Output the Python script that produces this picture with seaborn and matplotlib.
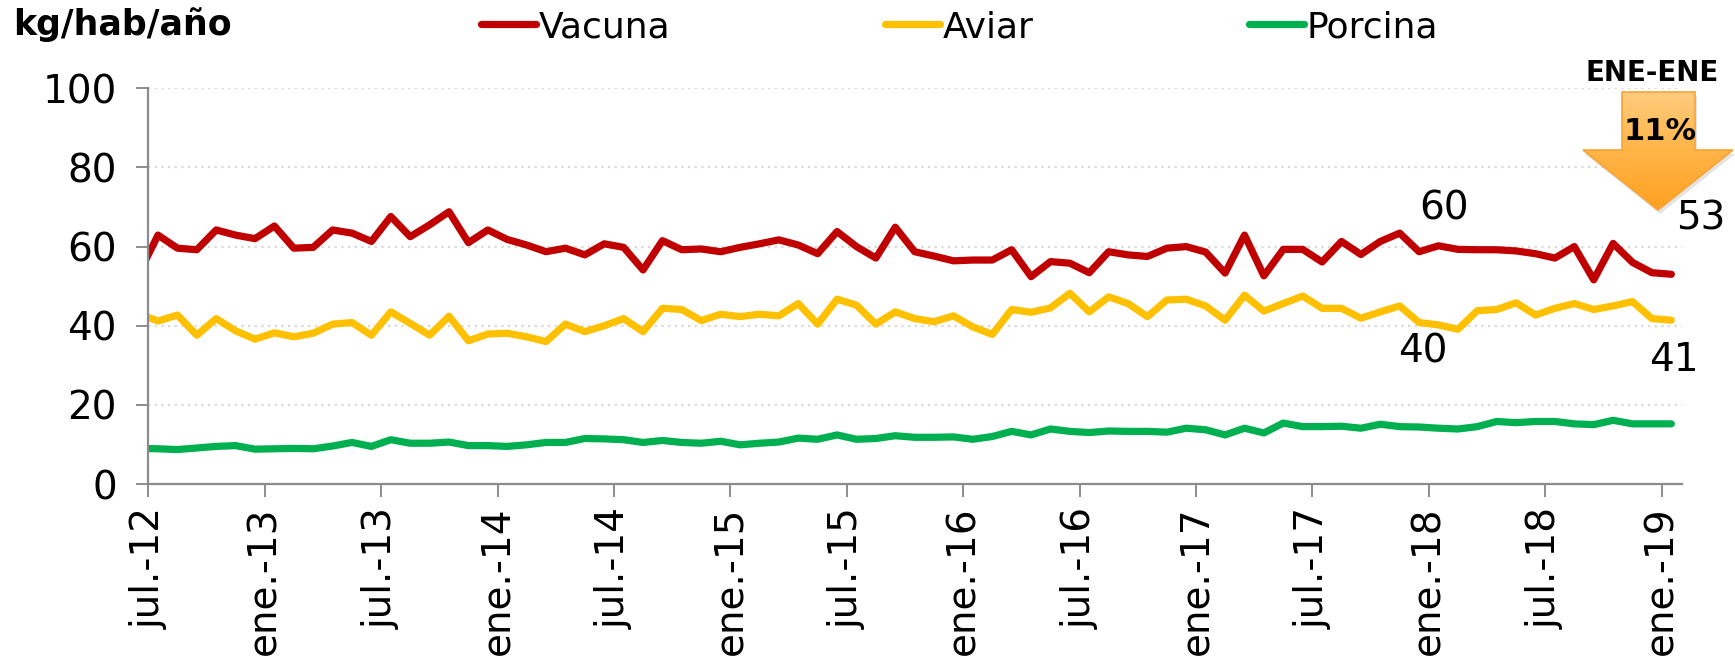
import numpy as np
import pandas as pd
import matplotlib
matplotlib.use("Agg")
import matplotlib.pyplot as plt
import seaborn as sns
from matplotlib.patches import Polygon
from matplotlib.colors import LinearSegmentedColormap

# ---------------- data (monthly, jun-12 .. ene-19; plotted mid-month) ----------------
meses = pd.period_range("2012-06", "2019-01", freq="M")

vacuna = [53.0, 62.9, 59.6, 59.2, 64.2, 62.9, 62.0, 65.2, 59.6, 59.8, 64.2, 63.4, 61.3, 67.6,
          62.5, 65.5, 68.8, 61.0, 64.2, 61.8, 60.4, 58.7, 59.6, 57.9, 60.7, 59.8, 54.1, 61.5,
          59.2, 59.4, 58.7, 59.8, 60.7, 61.7, 60.4, 58.2, 63.8, 60.0, 57.1, 64.9, 58.7, 57.6,
          56.4, 56.6, 56.6, 59.2, 52.4, 56.2, 55.8, 53.4, 58.7, 57.9, 57.5, 59.6, 60.0, 58.6,
          53.3, 62.9, 52.6, 59.3, 59.3, 56.1, 61.3, 58.0, 61.3, 63.4, 58.7, 60.2, 59.3, 59.2,
          59.2, 58.9, 58.2, 57.1, 60.0, 51.6, 60.8, 56.0, 53.4, 53.0]

aviar = [43.0, 41.2, 42.7, 37.6, 41.8, 38.7, 36.6, 38.2, 37.2, 38.1, 40.4, 40.8, 37.6, 43.5,
         40.6, 37.6, 42.4, 36.2, 37.9, 38.1, 37.2, 36.0, 40.4, 38.5, 40.0, 41.8, 38.5, 44.4,
         44.1, 41.3, 42.9, 42.3, 42.9, 42.5, 45.6, 40.4, 46.7, 45.2, 40.4, 43.5, 41.8, 41.0,
         42.5, 39.7, 37.8, 44.1, 43.4, 44.5, 48.2, 43.5, 47.3, 45.6, 42.3, 46.5, 46.7, 45.0,
         41.4, 47.7, 43.7, 45.6, 47.5, 44.4, 44.4, 41.9, 43.5, 45.0, 40.8, 40.2, 39.1, 43.8,
         44.1, 45.8, 42.7, 44.4, 45.6, 44.1, 45.0, 46.1, 41.8, 41.4]

porcina = [9.0, 8.9, 8.7, 9.1, 9.5, 9.7, 8.8, 8.9, 9.0, 8.9, 9.6, 10.5, 9.5, 11.2,
           10.3, 10.3, 10.6, 9.7, 9.7, 9.5, 9.9, 10.5, 10.5, 11.5, 11.4, 11.2, 10.5, 11.0,
           10.5, 10.3, 10.8, 9.9, 10.3, 10.6, 11.6, 11.3, 12.4, 11.3, 11.5, 12.2, 11.8, 11.8,
           11.9, 11.3, 12.0, 13.3, 12.4, 13.9, 13.3, 13.0, 13.4, 13.3, 13.3, 13.1, 14.1, 13.7,
           12.4, 14.1, 12.9, 15.4, 14.5, 14.5, 14.6, 14.1, 15.1, 14.5, 14.4, 14.1, 13.9, 14.5,
           15.8, 15.5, 15.8, 15.8, 15.2, 15.0, 16.1, 15.2, 15.2, 15.2]

series_names = ["Vacuna", "Aviar", "Porcina"]
colors = {"Vacuna": "#C00000", "Aviar": "#FFC000", "Porcina": "#00B050"}

tick_labels = ["jul.-12", "ene.-13", "jul.-13", "ene.-14", "jul.-14", "ene.-15", "jul.-15",
               "ene.-16", "jul.-16", "ene.-17", "jul.-17", "ene.-18", "jul.-18", "ene.-19"]

y_label = "kg/hab/año"
badge_title = "ENE-ENE"
badge_value = "11%"

# ---------------- build long table ----------------
start = pd.Period("2012-07", freq="M")
xpos = np.array([(p - start).n for p in meses]) + 0.5   # mid-month position
df = pd.concat([
    pd.DataFrame({"x": xpos, "valor": vals, "serie": name})
    for name, vals in zip(series_names, [vacuna, aviar, porcina])
], ignore_index=True)

# ---------------- figure ----------------
sns.set_style("white")
plt.rcParams["font.family"] = ["DejaVu Sans"]
plt.rcParams["text.color"] = "black"
plt.rcParams["xtick.labelcolor"] = "black"
plt.rcParams["ytick.labelcolor"] = "black"

W, H = 1735, 659
fig = plt.figure(figsize=(W / 100, H / 100), dpi=100)
L, R, T, B = 148.3, 1682, 88.3, 484
ax = fig.add_axes([L / W, 1 - B / H, (R - L) / W, (B - T) / H])

sns.lineplot(data=df, x="x", y="valor", hue="serie", hue_order=series_names,
             palette=colors, linewidth=5.2, ax=ax, legend=True, sort=False)
for ln in ax.get_lines():
    ln.set_solid_capstyle("round")
    ln.set_solid_joinstyle("round")

ax.set_xlim(0, 79.05)
ax.set_ylim(0, 100)
ax.set_yticks(np.arange(0, 101, 20))
ax.set_xticks(np.arange(0, 79, 6))
ax.set_xticklabels(tick_labels, rotation=90)
ax.set_xlabel("")
ax.set_ylabel("")

ax.yaxis.grid(True, linestyle=(0, (1, 2)), color="#D9D9D9", linewidth=1.6)
ax.xaxis.grid(False)
ax.set_axisbelow(True)
for s in ["top", "right"]:
    ax.spines[s].set_visible(False)
for s in ["left", "bottom"]:
    ax.spines[s].set_color("#8C8C8C")
    ax.spines[s].set_linewidth(1.6)

ax.tick_params(axis="y", which="major", length=8.6, width=1.4, color="#8C8C8C",
               pad=14, labelsize=28, direction="out", left=True, labelcolor="black")
ax.tick_params(axis="x", which="major", length=9.4, width=1.4, color="#8C8C8C",
               pad=7, labelsize=28, direction="out", bottom=True, labelcolor="black")

# legend on top
handles, labels = ax.get_legend_handles_labels()
leg = ax.legend(handles, labels, loc="center left", bbox_to_anchor=(481 / W, 1 - 27 / H),
                bbox_transform=fig.transFigure, ncol=3, frameon=False, fontsize=26,
                handlelength=1.52, handletextpad=0.08, columnspacing=5.95,
                borderpad=0, borderaxespad=0)
for lh in leg.get_lines():
    lh.set_linewidth(5.2)
    lh.set_solid_capstyle("round")
for t in leg.get_texts():
    t.set_color("black")

# y unit label
fig.text(13 / W, 1 - 35.5 / H, y_label, fontsize=25, fontweight="bold",
         ha="left", va="baseline", color="black")

# data labels
i_ene18 = list(meses).index(pd.Period("2018-01", freq="M"))
def lab(series, idx, dx, dy):
    ax.annotate(f"{series[idx]:.0f}", xy=(xpos[idx], series[idx]), xytext=(dx, dy),
                textcoords="offset points", ha="center", va="center", fontsize=28,
                color="black")
lab(vacuna, i_ene18, 4, 27)
lab(aviar, i_ene18, -11, -19)
lab(vacuna, -1, 21, 40)
lab(aviar, -1, 2, -28.5)

# ---------------- arrow badge ----------------
ov = fig.add_axes([0, 0, 1, 1], zorder=5)
ov.set_xlim(0, W)
ov.set_ylim(H, 0)
ov.axis("off")
pts = [(1622, 92), (1695, 92), (1695, 150), (1733, 150), (1658, 210), (1583, 150), (1622, 150)]
shadow = Polygon([(x + 2, y + 4) for x, y in pts], closed=True, facecolor="#B0B0B0",
                 edgecolor="none", alpha=0.35)
ov.add_patch(shadow)
poly = Polygon(pts, closed=True, facecolor="none", edgecolor="#F7A436", linewidth=1.2)
ov.add_patch(poly)
cmap = LinearSegmentedColormap.from_list("orng", ["#FFCB7E", "#FFB547", "#FFA020"])
im = ov.imshow(np.linspace(0, 1, 256).reshape(-1, 1), cmap=cmap, aspect="auto",
               extent=(1583, 1733, 210, 92), zorder=2)
im.set_clip_path(poly)
poly.set_zorder(3)
ov.set_xlim(0, W)
ov.set_ylim(H, 0)
ov.text(1652, 73, badge_title, fontsize=20, fontweight="bold", ha="center", va="center",
        zorder=4, color="black")
ov.text(1660, 131, badge_value, fontsize=22, fontweight="bold", ha="center", va="center",
        zorder=4, color="black")

fig.savefig("out.png", dpi=100)
